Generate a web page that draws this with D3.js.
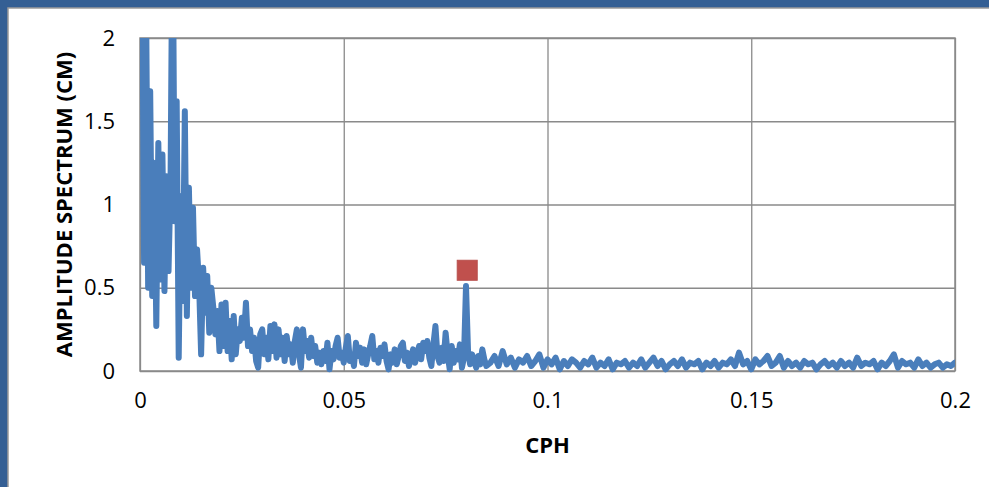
<!DOCTYPE html>
<html>
<head>
<meta charset="utf-8">
<script src="https://cdn.jsdelivr.net/npm/d3@7"></script>
<style>
  body { margin: 0; background: #345f94; }
  .grid line { stroke: #8a8a8a; stroke-width: 1.3; }
  .grid path { display: none; }
  .tick-lbl text { font-family: "Open Sans", sans-serif; font-size: 22px; fill: #000; }
  .tick-lbl line, .tick-lbl path { display: none; }
  .axis-title { font-family: "Open Sans", sans-serif; font-size: 22px; font-weight: bold; fill: #000; }
</style>
</head>
<body>
<div id="chart"></div>
<script>
// frequencies (CPH) and amplitudes (cm)
var lowCph = [
  0.0005,0.001,0.0015,0.002,0.0025,0.003,0.0035,0.004,0.0045,0.005,
  0.0055,0.006,0.0065,0.007,0.0075,0.008,0.0085,0.009,0.0095,0.01,
  0.0105,0.011,0.0115,0.012,0.0125,0.013,0.0135,0.014,0.0145,0.015,
  0.0155,0.016,0.0165,0.017,0.0175,0.018,0.0185,0.019,0.0195,0.02,
  0.0205,0.021,0.0215,0.022,0.0225,0.023,0.0235,0.024,0.0245,0.025,
  0.0255,0.026,0.0265,0.027,0.0275,0.028,0.0285,0.029,0.0295,0.03,
  0.0305,0.031,0.0315,0.032,0.0325,0.033,0.0335,0.034,0.0345,0.035,
  0.0355,0.036,0.0365,0.037,0.0375,0.038,0.0385,0.039,0.0395,0.04,
  0.0405,0.041,0.0415,0.042,0.0425,0.043,0.0435,0.044,0.0445,0.045,
  0.0455,0.046,0.0465,0.047,0.0475,0.048,0.0485,0.049,0.0495,0.05,
  0.0505,0.051,0.0515,0.052,0.0525,0.053,0.0535,0.054,0.0545,0.055,
  0.0555,0.056,0.0565,0.057,0.0575,0.058,0.0585,0.059,0.0595,0.06,
  0.0605,0.061,0.0615,0.062,0.0625,0.063,0.0635,0.064,0.0645,0.065,
  0.0655,0.066,0.0665,0.067,0.0675,0.068,0.0685,0.069,0.0695,0.07,
  0.0705,0.071,0.0715,0.072,0.0725,0.073,0.0735,0.074,0.0745,0.075,
  0.0755,0.076,0.0765,0.077,0.0775,0.078,0.0785,0.079,0.0795,0.08,
  0.0805,0.081,0.0815,0.082,0.0825,0.083,0.0835,0.084,0.0845,0.085
];
var lowAmp = [
  2.6,0.65,2.2,0.5,1.68,0.45,1.25,0.27,1.37,0.55,
  1.3,0.48,1.17,0.6,1.15,2.8,0.9,1.62,0.08,1.05,
  0.42,1.56,0.33,1.1,0.5,0.98,0.45,0.73,0.52,0.1,
  0.62,0.35,0.57,0.23,0.5,0.38,0.22,0.36,0.12,0.4,
  0.15,0.41,0.12,0.3,0.07,0.33,0.1,0.25,0.18,0.32,
  0.2,0.41,0.15,0.25,0.12,0.2,0.06,0.02,0.22,0.25,
  0.1,0.2,0.07,0.27,0.12,0.28,0.08,0.25,0.1,0.2,
  0.06,0.21,0.1,0.16,0.05,0.18,0.25,0.1,0.02,0.25,
  0.12,0.18,0.08,0.2,0.09,0.15,0.05,0.11,0.04,0.12,
  0.06,0.17,0.01,0.12,0.07,0.15,0.2,0.08,0.11,0.05,
  0.14,0.21,0.06,0.1,0.03,0.17,0.09,0.14,0.05,0.13,
  0.04,0.1,0.15,0.21,0.07,0.12,0.05,0.14,0.09,0.16,
  0.06,0.01,0.1,0.05,0.13,0.04,0.09,0.15,0.17,0.06,
  0.11,0.03,0.08,0.13,0.05,0.1,0.15,0.07,0.17,0.12,
  0.18,0.08,0.03,0.16,0.27,0.09,0.05,0.14,0.06,0.23,
  0.1,0.01,0.15,0.05,0.12,0.07,0.16,0.02,0.08,0.51,
  0.12,0.04,0.1,0.06,0.02,0.09,0.04,0.13,0.07,0.03
];
var highCph = [
  0.086,0.087,0.088,0.089,0.09,0.091,0.092,0.093,0.094,0.095,
  0.096,0.097,0.098,0.099,0.1,0.101,0.102,0.103,0.104,0.105,
  0.106,0.107,0.108,0.109,0.11,0.111,0.112,0.113,0.114,0.115,
  0.116,0.117,0.118,0.119,0.12,0.121,0.122,0.123,0.124,0.125,
  0.126,0.127,0.128,0.129,0.13,0.131,0.132,0.133,0.134,0.135,
  0.136,0.137,0.138,0.139,0.14,0.141,0.142,0.143,0.144,0.145,
  0.146,0.147,0.148,0.149,0.15,0.151,0.152,0.153,0.154,0.155,
  0.156,0.157,0.158,0.159,0.16,0.161,0.162,0.163,0.164,0.165,
  0.166,0.167,0.168,0.169,0.17,0.171,0.172,0.173,0.174,0.175,
  0.176,0.177,0.178,0.179,0.18,0.181,0.182,0.183,0.184,0.185,
  0.186,0.187,0.188,0.189,0.19,0.191,0.192,0.193,0.194,0.195,
  0.196,0.197,0.198,0.199,0.2
];
var highAmp = [
  0.05,0.09,0.03,0.12,0.04,0.08,0.02,0.07,0.05,0.09,
  0.03,0.06,0.10,0.02,0.07,0.04,0.08,0.01,0.06,0.03,
  0.07,0.05,0.02,0.06,0.04,0.08,0.02,0.05,0.03,0.07,
  0.01,0.05,0.04,0.06,0.02,0.05,0.03,0.07,0.02,0.05,
  0.08,0.03,0.06,0.01,0.04,0.06,0.03,0.07,0.02,0.05,
  0.04,0.06,0.01,0.05,0.03,0.06,0.02,0.05,0.04,0.07,
  0.03,0.11,0.04,0.06,0.01,0.07,0.04,0.06,0.09,0.03,
  0.05,0.09,0.02,0.06,0.03,0.05,0.02,0.06,0.04,0.05,
  0.01,0.04,0.06,0.03,0.05,0.02,0.06,0.03,0.05,0.02,
  0.08,0.03,0.05,0.04,0.06,0.01,0.05,0.03,0.06,0.10,
  0.02,0.06,0.04,0.05,0.02,0.07,0.03,0.05,0.02,0.04,
  0.05,0.02,0.04,0.03,0.05
];
// highlighted peak marker
var markerCph = [0.0803];
var markerAmp = [0.605];

var xTicks = [0, 0.05, 0.1, 0.15, 0.2];
var yTicks = [0, 0.5, 1, 1.5, 2];

var width = 989, height = 487;
var margin = { top: 38, right: 34, bottom: 116, left: 140 };

var cph = lowCph.concat(highCph);
var amp = lowAmp.concat(highAmp);
var data = cph.map((c, i) => ({ cph: c, amp: amp[i] }));

var svg = d3.select("#chart").append("svg")
  .attr("width", width)
  .attr("height", height);

// frame: blue band left/top, white panel
svg.append("rect")
  .attr("x", 8).attr("y", 8)
  .attr("width", width).attr("height", height)
  .attr("fill", "#fff")
  .attr("stroke", "#9a9a9a")
  .attr("stroke-width", 1.5);

var x = d3.scaleLinear()
  .domain([0, 0.2])
  .range([margin.left, width - margin.right]);

var y = d3.scaleLinear()
  .domain([0, 2])
  .range([height - margin.bottom, margin.top]);

// grid
svg.append("g")
  .attr("class", "grid")
  .attr("transform", "translate(0," + (height - margin.bottom) + ")")
  .call(d3.axisBottom(x).tickValues(xTicks).tickSize(-(y(0) - y(2))).tickFormat(""));

svg.append("g")
  .attr("class", "grid")
  .attr("transform", "translate(" + margin.left + ",0)")
  .call(d3.axisLeft(y).tickValues(yTicks).tickSize(-(x(0.2) - x(0))).tickFormat(""));

// plot border
svg.append("rect")
  .attr("x", x(0)).attr("y", y(2))
  .attr("width", x(0.2) - x(0)).attr("height", y(0) - y(2))
  .attr("fill", "none")
  .attr("stroke", "#8a8a8a")
  .attr("stroke-width", 1.5);

// tick labels
svg.append("g")
  .attr("class", "tick-lbl")
  .attr("transform", "translate(0," + (height - margin.bottom) + ")")
  .call(d3.axisBottom(x).tickValues(xTicks).tickSize(0).tickPadding(21).tickFormat((d) => d));

svg.append("g")
  .attr("class", "tick-lbl")
  .attr("transform", "translate(" + margin.left + ",0)")
  .call(d3.axisLeft(y).tickValues(yTicks).tickSize(0).tickPadding(25).tickFormat((d) => d));

// clip the series to the plot area
svg.append("clipPath")
  .attr("id", "plot-clip")
  .append("rect")
  .attr("x", x(0)).attr("y", y(2))
  .attr("width", x(0.2) - x(0)).attr("height", y(0) - y(2) + 4);

var line = d3.line()
  .x((d) => x(d.cph))
  .y((d) => y(d.amp));

svg.append("path")
  .datum(data)
  .attr("clip-path", "url(#plot-clip)")
  .attr("fill", "none")
  .attr("stroke", "#4a7ebb")
  .attr("stroke-width", 6)
  .attr("stroke-linejoin", "round")
  .attr("stroke-linecap", "round")
  .attr("d", line);

// marker
svg.selectAll(".marker")
  .data(markerCph.map((c, i) => ({ cph: c, amp: markerAmp[i] })))
  .enter()
  .append("rect")
  .attr("class", "marker")
  .attr("x", (d) => x(d.cph) - 10)
  .attr("y", (d) => y(d.amp) - 10)
  .attr("width", 20).attr("height", 20)
  .attr("fill", "#c0504d")
  .attr("stroke", "#b9504d");

// axis titles
svg.append("text")
  .attr("class", "axis-title")
  .attr("x", (x(0) + x(0.2)) / 2)
  .attr("y", 453)
  .attr("text-anchor", "middle")
  .text("CPH");

svg.append("text")
  .attr("class", "axis-title")
  .attr("transform", "translate(72," + (y(0) + y(2)) / 2 + ") rotate(-90)")
  .attr("text-anchor", "middle")
  .text("AMPLITUDE SPECTRUM (CM)");
</script>
</body>
</html>
